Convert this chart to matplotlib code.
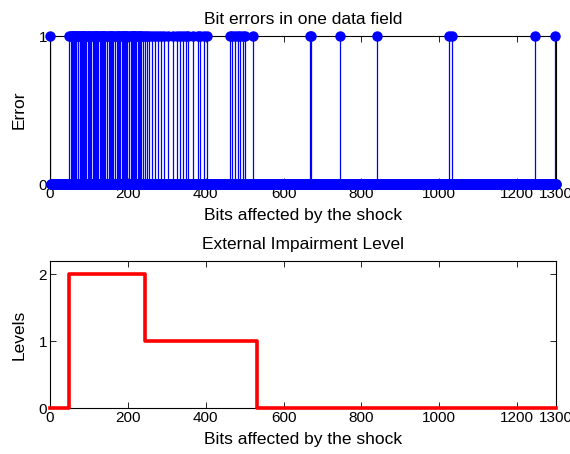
import numpy as np
import matplotlib
matplotlib.use("Agg")
import matplotlib.pyplot as plt

plt.rcParams['font.family'] = ['Liberation Sans', 'DejaVu Sans']

n_bits = 1300
error_bits = [1, 50, 53, 56, 58, 61, 63, 66, 71, 73, 76, 79, 81, 84, 88, 90, 93, 97, 100,
              103, 106, 110, 113, 116, 119, 121, 124, 128, 131, 133, 136, 139, 142, 147,
              151, 154, 157, 160, 163, 166, 171, 174, 177, 180, 185, 188, 191, 193, 196,
              199, 203, 207, 210, 212, 215, 218, 221, 226, 229, 231, 235, 240, 244, 249,
              255, 262, 270, 278, 285, 293, 303, 316, 326, 334, 342, 350, 355, 367, 380,
              386, 396, 404, 463, 468, 475, 483, 488, 496, 501, 522, 668, 671, 745, 840,
              1026, 1032, 1246, 1298]
level_edges = [0, 50, 245, 532, 1300]
level_values = [0, 2, 1, 0]
xticks = [0, 200, 400, 600, 800, 1000, 1200, 1300]

bits = np.arange(1, n_bits + 1)
errors = np.zeros(n_bits)
errors[np.array(error_bits) - 1] = 1

fig = plt.figure(figsize=(5.7, 4.54), dpi=100)
ax1 = fig.add_axes([0.0877, 0.5947, 0.8877, 0.326])
ax2 = fig.add_axes([0.0877, 0.1013, 0.8877, 0.3238])

ml, sl, bl = ax1.stem(bits, errors, basefmt=' ')
ml.set_color('blue')
ml.set_marker('o')
ml.set_markersize(6.5)
ml.set_clip_on(False)
ml.set_zorder(3)
sl.set_color('blue')
sl.set_linewidth(0.9)
ax1.set_xlim(0, 1300)
ax1.set_ylim(0, 1)
ax1.set_yticks([0, 1])
ax1.set_xticks(xticks)
ax1.set_title('Bit errors in one data field', fontsize=12.5, pad=9)
ax1.set_xlabel('Bits affected by the shock', fontsize=12.5, labelpad=5)
ax1.set_ylabel('Error', fontsize=12.5, labelpad=9)

x_step = level_edges
y_step = level_values + [level_values[-1]]
ax2.step(x_step, y_step, where='post', color='red', linewidth=2.6,
         clip_on=False, zorder=4)
ax2.set_xlim(0, 1300)
ax2.set_ylim(0, 2.2)
ax2.set_yticks([0, 1, 2])
ax2.set_xticks(xticks)
ax2.set_title('External Impairment Level', fontsize=12.5, pad=9)
ax2.set_xlabel('Bits affected by the shock', fontsize=12.5, labelpad=5)
ax2.set_ylabel('Levels', fontsize=12.5, labelpad=9)

for ax in (ax1, ax2):
    ax.tick_params(direction='in', top=True, right=True, labelsize=11, length=4, width=0.6, pad=2)
    for s in ax.spines.values():
        s.set_linewidth(0.8)

fig.savefig('out.png', dpi=100)
